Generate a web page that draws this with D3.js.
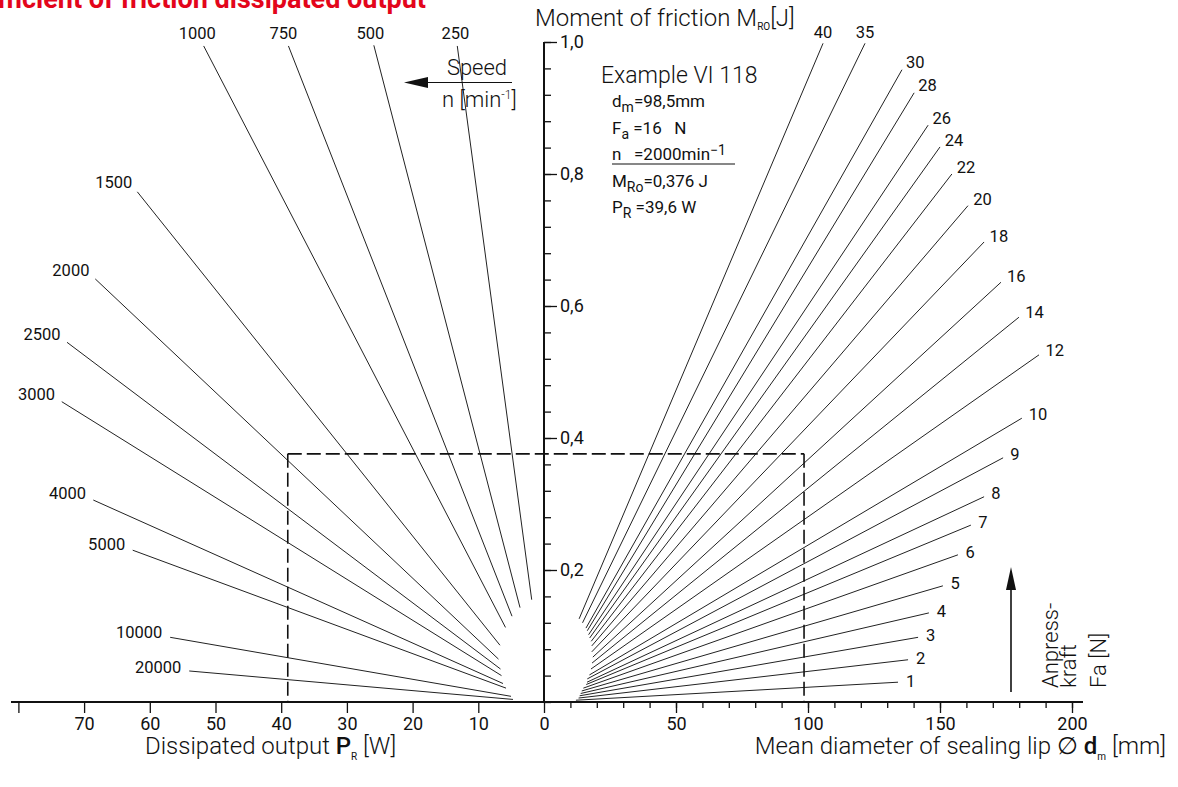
<!DOCTYPE html>
<html>
<head>
<meta charset="utf-8">
<script src="https://cdn.jsdelivr.net/npm/d3@7"></script>
<style>
body { margin: 0; background: #fff; }
svg text { font-family: Roboto, 'DejaVu Sans', sans-serif; fill: #111; }
.num { font-size: 16.5px; }
.tick text { font-size: 18px; }
.ttl { font-family: Roboto, sans-serif !important; font-weight: 300; font-size: 24px; }
</style>
</head>
<body>
<script>
// speed lines (left fan): outer / inner end points, P in W, M in J
var speeds = [250, 500, 750, 1000, 1500, 2000, 2500, 3000, 4000, 5000, 10000, 20000]
var speedOuterP = [13.2, 25.9, 38.9, 51.8, 61.9, 68.3, 72.6, 73.4, 68.6, 62.6, 56.9, 54.0]
var speedOuterM = [0.994, 0.995, 0.994, 0.994, 0.773, 0.641, 0.545, 0.455, 0.306, 0.230, 0.098, 0.047]
var speedInnerP = [1.87, 3.65, 4.87, 5.86, 6.70, 6.93, 6.62, 6.47, 6.24, 5.78, 5.02, 4.72]
var speedInnerM = [0.155, 0.143, 0.130, 0.113, 0.086, 0.065, 0.050, 0.040, 0.028, 0.021, 0.0086, 0.0039]

// contact force lines (right fan): d in mm, M in J
var forces = [40, 35, 30, 28, 26, 24, 22, 20, 18, 16, 14, 12, 10, 9, 8, 7, 6, 5, 4, 3, 2, 1]
var forceOuterD = [105.7, 121.6, 135.6, 140.2, 145.5, 150.0, 154.5, 160.6, 166.7, 173.1, 179.9, 187.5, 181.0, 173.9, 166.7, 161.7, 156.8, 151.1, 145.8, 141.7, 137.9, 134.1]
var forceOuterM = [0.998, 0.998, 0.958, 0.923, 0.874, 0.841, 0.800, 0.752, 0.697, 0.636, 0.583, 0.526, 0.430, 0.370, 0.311, 0.268, 0.223, 0.176, 0.135, 0.098, 0.064, 0.030]
var forceInnerD = [13.3, 14.6, 15.9, 16.4, 16.9, 17.3, 17.9, 18.1, 18.1, 18.5, 18.2, 17.8, 17.2, 16.4, 16.3, 16.0, 14.9, 14.3, 13.9, 13.5, 13.1, 12.1]
var forceInnerM = [0.126, 0.120, 0.112, 0.108, 0.102, 0.097, 0.092, 0.085, 0.076, 0.068, 0.059, 0.050, 0.041, 0.035, 0.030, 0.0265, 0.021, 0.0167, 0.0129, 0.0094, 0.006, 0.0027]

// axis ticks
var powerTicks = [0, 10, 20, 30, 40, 50, 60, 70, 80]
var powerLabels = ["0", "10", "20", "30", "40", "50", "60", "70", ""]
var diamMinor = d3.range(10, 201, 10)
var diamMajor = [50, 100, 150, 200]
var momentMinor = d3.range(0, 26).map(function(i) { return i * 0.04 })
var momentMajor = [0.2, 0.4, 0.6, 0.8, 1.0]

// worked example
var exampleM = 0.376
var exampleP = 39.0
var exampleD = 98.5

var width = 1178, height = 787

var yM = d3.scaleLinear().domain([0, 1]).range([702, 42])
var xP = d3.scaleLinear().domain([0, 80]).range([544, 18.4])
var xD = d3.scaleLinear().domain([0, 200]).range([544, 1072])

var svg = d3.select("body")
.append("svg")
.attr("width", width)
.attr("height", height)

// red heading, cut at the top edge like the source page
svg.append("text")
	.attr("x", 426).attr("y", 8)
	.attr("text-anchor", "end")
	.style("font-family", "Roboto, sans-serif")
	.style("font-weight", 700)
	.style("font-size", "27px")
	.style("fill", "#e3051b")
	.text("Coefficient of friction dissipated output")

// ---- fan lines
var speedData = speeds.map(function(n, i) {
	return {n: n, x1: xP(speedOuterP[i]), y1: yM(speedOuterM[i]), x2: xP(speedInnerP[i]), y2: yM(speedInnerM[i])}
})
var forceData = forces.map(function(f, i) {
	return {f: f, x1: xD(forceOuterD[i]), y1: yM(forceOuterM[i]), x2: xD(forceInnerD[i]), y2: yM(forceInnerM[i])}
})

function dir(d) {
	var dx = d.x1 - d.x2, dy = d.y1 - d.y2, l = Math.sqrt(dx*dx + dy*dy)
	return [dx/l, dy/l]
}

svg.selectAll(".speedLine")
.data(speedData)
.enter()
.append("line")
.attr("class", "speedLine")
.attr("x1", function(d) { return d.x1 }).attr("y1", function(d) { return d.y1 })
.attr("x2", function(d) { return d.x2 }).attr("y2", function(d) { return d.y2 })
.attr("stroke", "#222").attr("stroke-width", 1)

svg.selectAll(".speedLabel")
.data(speedData)
.enter()
.append("text")
.attr("class", "speedLabel num")
.attr("dominant-baseline", "central")
.attr("text-anchor", function(d) { return d.y1 < 60 ? "middle" : "end" })
.attr("x", function(d) { return d.y1 < 60 ? d.x1 + dir(d)[0]*14 : d.x1 + dir(d)[0]*8 })
.attr("y", function(d) { return d.y1 < 60 ? d.y1 - 12 : d.y1 + dir(d)[1]*8 - 3 })
.text(function(d) { return d.n })

svg.selectAll(".forceLine")
.data(forceData)
.enter()
.append("line")
.attr("class", "forceLine")
.attr("x1", function(d) { return d.x1 }).attr("y1", function(d) { return d.y1 })
.attr("x2", function(d) { return d.x2 }).attr("y2", function(d) { return d.y2 })
.attr("stroke", "#222").attr("stroke-width", 1)

svg.selectAll(".forceLabel")
.data(forceData)
.enter()
.append("text")
.attr("class", "forceLabel num")
.attr("dominant-baseline", "central")
.attr("text-anchor", function(d) { return d.y1 < 60 ? "middle" : "start" })
.attr("x", function(d) { return d.y1 < 60 ? d.x1 : d.x1 + dir(d)[0]*8 })
.attr("y", function(d) { return d.y1 < 60 ? d.y1 - 11 : d.y1 + dir(d)[1]*8 })
.text(function(d) { return d.f })

// ---- example dashed box
var dash = "14,5"
svg.append("line")
	.attr("x1", xP(exampleP)).attr("x2", xD(exampleD))
	.attr("y1", yM(exampleM)).attr("y2", yM(exampleM))
	.attr("stroke", "#111").attr("stroke-width", 1.6).attr("stroke-dasharray", dash)
svg.append("line")
	.attr("x1", xP(exampleP)).attr("x2", xP(exampleP))
	.attr("y1", yM(exampleM)).attr("y2", yM(0))
	.attr("stroke", "#111").attr("stroke-width", 1.6).attr("stroke-dasharray", dash)
svg.append("line")
	.attr("x1", xD(exampleD)).attr("x2", xD(exampleD))
	.attr("y1", yM(exampleM)).attr("y2", yM(0))
	.attr("stroke", "#111").attr("stroke-width", 1.6).attr("stroke-dasharray", dash)

// ---- axes
var fmt = function(v) { return d3.format(".1f")(v).replace(".", ",") }

var gP = svg.append("g").attr("transform", "translate(0," + yM(0) + ")")
	.call(d3.axisBottom(xP).tickValues(powerTicks).tickSize(11).tickPadding(4)
		.tickFormat(function(v, i) { return powerLabels[i] }))
var gDmin = svg.append("g").attr("transform", "translate(0," + yM(0) + ")")
	.call(d3.axisBottom(xD).tickValues(diamMinor).tickSize(6).tickFormat(""))
var gD = svg.append("g").attr("transform", "translate(0," + yM(0) + ")")
	.call(d3.axisBottom(xD).tickValues(diamMajor).tickSize(11).tickPadding(4))
var gMmin = svg.append("g").attr("transform", "translate(" + xP(0) + ",0)")
	.call(d3.axisRight(yM).tickValues(momentMinor).tickSize(7).tickFormat(""))
var gM = svg.append("g").attr("transform", "translate(" + xP(0) + ",0)")
	.call(d3.axisRight(yM).tickValues(momentMajor).tickSize(13).tickPadding(3).tickFormat(fmt))

;[gP, gDmin, gD, gMmin, gM].forEach(function(g) {
	g.select(".domain").remove()
	g.selectAll(".tick line").attr("stroke", "#111").attr("stroke-width", 1.3)
	g.selectAll(".tick text").attr("font-family", null).style("fill", "#111")
})

svg.append("line")
	.attr("x1", 11).attr("x2", 1083).attr("y1", yM(0)).attr("y2", yM(0))
	.attr("stroke", "#111").attr("stroke-width", 2)
svg.append("line")
	.attr("x1", xP(0)).attr("x2", xP(0)).attr("y1", yM(0)).attr("y2", yM(1))
	.attr("stroke", "#111").attr("stroke-width", 2)

// ---- axis titles
var t1 = svg.append("text").attr("class", "ttl").attr("x", 535).attr("y", 26)
t1.append("tspan").text("Moment of friction M")
t1.append("tspan").attr("dy", 4).style("font-size", "10px").style("font-weight", 400).text("RO")
t1.append("tspan").attr("dy", -4).text("[J]")

var t2 = svg.append("text").attr("class", "ttl").attr("x", 145).attr("y", 754)
t2.append("tspan").text("Dissipated output ")
t2.append("tspan").style("font-weight", 500).text("P")
t2.append("tspan").attr("dy", 6).style("font-size", "10px").style("font-weight", 400).text("R")
t2.append("tspan").attr("dy", -6).text(" [W]")

var t3 = svg.append("text").attr("class", "ttl").attr("x", 1166).attr("y", 754).attr("text-anchor", "end")
t3.append("tspan").text("Mean diameter of sealing lip \u2205 ")
t3.append("tspan").style("font-weight", 500).text("d")
t3.append("tspan").attr("dy", 6).style("font-size", "10px").style("font-weight", 400).text("m")
t3.append("tspan").attr("dy", -6).text(" [mm]")

// ---- speed arrow
svg.append("text").attr("class", "ttl").attr("x", 477).attr("y", 75).attr("text-anchor", "middle")
	.style("font-size", "22px").text("Speed")
svg.append("line").attr("x1", 425).attr("x2", 512).attr("y1", 82.5).attr("y2", 82.5)
	.attr("stroke", "#111").attr("stroke-width", 1.2)
svg.append("path").attr("d", "M404,82.5 L428,77 L428,88 Z").attr("fill", "#111")
var t4 = svg.append("text").attr("class", "ttl").attr("x", 442).attr("y", 107).style("font-size", "22px")
t4.append("tspan").text("n [min")
t4.append("tspan").attr("dy", -8).style("font-size", "12px").text("-1")
t4.append("tspan").attr("dy", 8).text("]")

// ---- example block
svg.append("text").attr("class", "ttl").attr("x", 601).attr("y", 83).style("font-size", "23px").text("Example VI 118")
var exLines = [
	{y: 107, parts: [["d", 0], ["m", 1], ["=98,5mm", 0]]},
	{y: 134, parts: [["F", 0], ["a", 1], ["\u00a0=16\u00a0\u00a0\u00a0N", 0]]},
	{y: 160, parts: [["n\u00a0\u00a0\u00a0=2000min", 0], ["\u22121", -1]]},
	{y: 187, parts: [["M", 0], ["Ro", 1], ["=0,376 J", 0]]},
	{y: 213, parts: [["P", 0], ["R", 1], ["\u00a0=39,6 W", 0]]}
]
exLines.forEach(function(l) {
	var t = svg.append("text").attr("x", 612).attr("y", l.y).style("font-size", "17px")
	var cur = 0
	l.parts.forEach(function(p) {
		var shift = p[1] * 5 - cur
		cur = p[1] * 5
		t.append("tspan").attr("dy", shift).style("font-size", p[1] !== 0 ? "14px" : null).text(p[0])
	})
})
svg.append("line").attr("x1", 612).attr("x2", 735).attr("y1", 164).attr("y2", 164)
	.attr("stroke", "#111").attr("stroke-width", 1.1)

// ---- contact force arrow
svg.append("line").attr("x1", 1011).attr("x2", 1011).attr("y1", 692).attr("y2", 585)
	.attr("stroke", "#111").attr("stroke-width", 1.6)
svg.append("path").attr("d", "M1011,567 L1016,590 L1006,590 Z").attr("fill", "#111")
var fa = svg.append("g").attr("transform", "translate(1058,688) rotate(-90)")
fa.append("text").attr("class", "ttl").attr("x", 0).attr("y", 0).style("font-size", "22px").text("Anpress-")
fa.append("text").attr("class", "ttl").attr("x", 0).attr("y", 18).style("font-size", "22px").text("kraft")
fa.append("text").attr("class", "ttl").attr("x", 0).attr("y", 48).style("font-size", "22px").text("Fa [N]")
</script>
</body>
</html>
